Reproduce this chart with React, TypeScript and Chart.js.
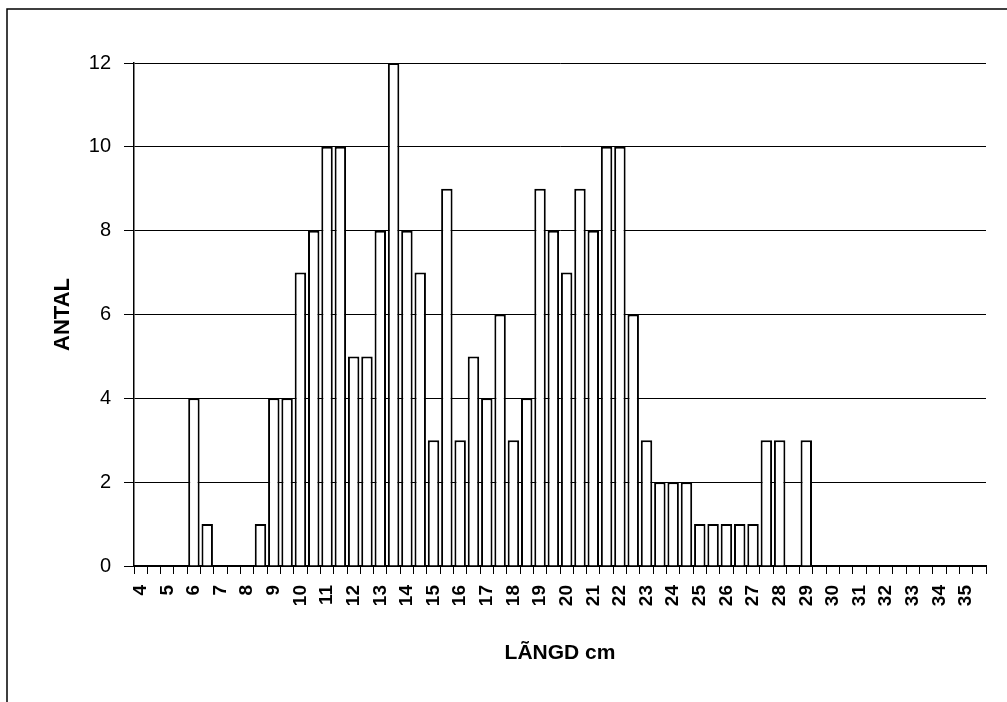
import React, { useEffect, useRef } from "react";
import { Chart, registerables } from "chart.js";

Chart.register(...registerables);

const binStarts: number[] = [
  4, 4.5, 5, 5.5, 6, 6.5, 7, 7.5, 8, 8.5, 9, 9.5, 10, 10.5, 11, 11.5,
  12, 12.5, 13, 13.5, 14, 14.5, 15, 15.5, 16, 16.5, 17, 17.5, 18, 18.5, 19, 19.5,
  20, 20.5, 21, 21.5, 22, 22.5, 23, 23.5, 24, 24.5, 25, 25.5, 26, 26.5, 27, 27.5,
  28, 28.5, 29, 29.5, 30, 30.5, 31, 31.5, 32, 32.5, 33, 33.5, 34, 34.5, 35, 35.5,
];

const antal: number[] = [
  0, 0, 0, 0, 4, 1, 0, 0, 0, 1, 4, 4, 7, 8, 10, 10,
  5, 5, 8, 12, 8, 7, 3, 9, 3, 5, 4, 6, 3, 4, 9, 8,
  7, 9, 8, 10, 10, 6, 3, 2, 2, 2, 1, 1, 1, 1, 1, 3,
  3, 0, 3, 0, 0, 0, 0, 0, 0, 0, 0, 0, 0, 0, 0, 0,
];

const yTicks: number[] = [0, 2, 4, 6, 8, 10, 12];

const xTitle = "LÃNGD cm";
const yTitle = "ANTAL";

const FONT = "'Liberation Sans', Arial, Helvetica, sans-serif";

const framePlugin = {
  id: "frame",
  afterDraw(chart: any) {
    const ctx = chart.ctx;
    ctx.save();
    ctx.strokeStyle = "#000";
    ctx.lineWidth = 1.5;
    ctx.beginPath();
    ctx.moveTo(7, 702);
    ctx.lineTo(7, 9);
    ctx.lineTo(1007, 9);
    ctx.stroke();
    ctx.restore();
  },
};

export default function App() {
  const ref = useRef<HTMLCanvasElement | null>(null);

  useEffect(() => {
    if (!ref.current) return;
    const chart = new Chart(ref.current, {
      type: "bar",
      data: {
        labels: binStarts.map((v) => String(v)),
        datasets: [
          {
            data: antal,
            backgroundColor: "#ffffff",
            borderColor: "#000000",
            borderWidth: 2,
            categoryPercentage: 0.86,
            barPercentage: 1,
          },
        ],
      },
      options: {
        responsive: false,
        animation: false,
        events: [],
        layout: { padding: { left: 10, right: 21, top: 63, bottom: 0 } },
        plugins: {
          legend: { display: false },
          tooltip: { enabled: false },
        },
        scales: {
          x: {
            type: "category",
            offset: true,
            border: { display: true, color: "#000", width: 2 },
            grid: {
              offset: true,
              drawOnChartArea: false,
              drawTicks: true,
              tickLength: 8,
              color: "#000",
              lineWidth: 1,
            },
            ticks: {
              autoSkip: false,
              minRotation: 90,
              maxRotation: 90,
              padding: 11,
              color: "#000",
              font: { family: FONT, size: 19, weight: "bold" },
              callback: (_v: any, i: number) => {
                const b = binStarts[i];
                return Number.isInteger(b) ? String(b) : "";
              },
            },
            title: {
              display: true,
              text: xTitle,
              color: "#000",
              font: { family: FONT, size: 21, weight: "bold" },
              padding: { top: 0, bottom: 36 },
            },
            afterFit: (scale: any) => {
              scale.height = 136;
              scale.paddingLeft = 0;
              scale.paddingRight = 0;
            },
          },
          y: {
            min: 0,
            max: 12,
            border: { display: true, color: "#000", width: 1.5 },
            grid: {
              color: "#000",
              lineWidth: 1,
              drawTicks: true,
              tickLength: 10,
            },
            afterBuildTicks: (scale: any) => {
              scale.ticks = yTicks.map((v) => ({ value: v }));
            },
            ticks: {
              padding: 13,
              color: "#000",
              font: { family: FONT, size: 20 },
            },
            title: {
              display: true,
              text: yTitle,
              color: "#000",
              font: { family: FONT, size: 22, weight: "bold" },
              padding: { top: 40, bottom: 0 },
            },
            afterFit: (scale: any) => {
              scale.width = 124;
              scale.paddingTop = 0;
              scale.paddingBottom = 0;
            },
          },
        },
      },
      plugins: [framePlugin],
    });
    return () => chart.destroy();
  }, []);

  return (
    <div style={{ position: "absolute", left: 0, top: 0, width: 1007, height: 702, background: "#fff" }}>
      <canvas ref={ref} width={1007} height={702} style={{ display: "block" }} />
    </div>
  );
}
